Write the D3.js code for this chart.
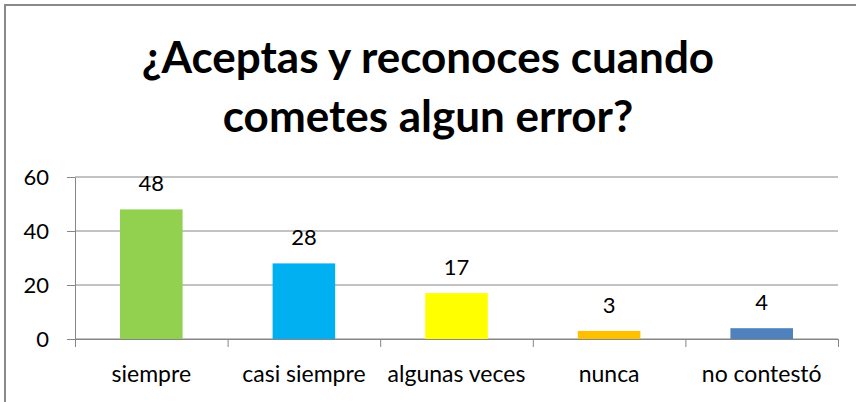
<!DOCTYPE html>
<html lang="es">
<head>
	<meta charset="utf-8">
	<title>aceptas y reconoces</title>
	<script src="https://d3js.org/d3.v7.min.js"></script>
	<style>
		body{ margin:0; background:#fff; }
		text{ font-family: Lato, "Open Sans", sans-serif; fill:#000; }
		.axis path, .axis line{ stroke:#868686; }
	</style>
</head>
<body>
<div id="chart"></div>
<script>
// data
let categories = ["siempre","casi siempre","algunas veces","nunca","no contestó"];
let values = [48, 28, 17, 3, 4];
let colors = ["#92D050","#00B0F0","#FFFF00","#FFC000","#4F81BD"];
let yTicks = [0, 20, 40, 60];
let titleLines = ["¿Aceptas y reconoces cuando","cometes algun error?"];

let W = 856, H = 402;
let pLeft = 75, pRight = 838, pTop = 177, pBottom = 339;

let svg = d3.select("#chart").append("svg")
	.attr("width", W).attr("height", H);

// chart border (goes off the right / bottom of the picture)
svg.append("rect")
	.attr("x", 5).attr("y", 5)
	.attr("width", 900).attr("height", 500)
	.attr("fill", "none").attr("stroke", "#898989").attr("stroke-width", 2);

// title
svg.selectAll(".title").data(titleLines).enter()
	.append("text")
	.attr("class", "title")
	.attr("x", 428)
	.attr("y", (d,i) => 73 + i*59)
	.attr("text-anchor", "middle")
	.style("font-size", "44px")
	.style("font-weight", "bold")
	.text(d => d);

let x = d3.scaleBand().domain(categories).range([pLeft, pRight])
	.paddingInner(0.59).paddingOuter(0.295);
let y = d3.scaleLinear().domain([0, 60]).range([pBottom, pTop]);

// gridlines
svg.selectAll(".grid").data(yTicks).enter()
	.append("line")
	.attr("x1", pLeft).attr("x2", pRight)
	.attr("y1", d => y(d)).attr("y2", d => y(d))
	.attr("stroke", "#868686").attr("stroke-width", 1);

// y axis
let yAxis = svg.append("g").attr("class","axis")
	.attr("transform", "translate(" + pLeft + ",0)")
	.call(d3.axisLeft(y).tickValues(yTicks).tickSize(8).tickPadding(18).tickSizeOuter(0));
yAxis.selectAll("text").style("font-size","22px").style("font-family","Lato, sans-serif");

// bars
svg.selectAll(".bar").data(values).enter()
	.append("rect")
	.attr("x", (d,i) => x(categories[i]))
	.attr("y", d => y(d))
	.attr("width", x.bandwidth())
	.attr("height", d => y(0) - y(d))
	.attr("fill", (d,i) => colors[i]);

// x axis with ticks on category boundaries
let xb = d3.scaleLinear().domain([0, categories.length]).range([pLeft, pRight]);
svg.append("g").attr("class","axis")
	.attr("transform", "translate(0," + pBottom + ")")
	.call(d3.axisBottom(xb).tickValues(d3.range(categories.length + 1)).tickSize(8).tickFormat("").tickSizeOuter(0));

svg.selectAll(".xlabel").data(categories).enter()
	.append("text")
	.attr("x", d => x(d) + x.bandwidth()/2)
	.attr("y", 382)
	.attr("text-anchor", "middle")
	.style("font-size", "23px")
	.text(d => d);

// value labels
svg.selectAll(".vlabel").data(values).enter()
	.append("text")
	.attr("x", (d,i) => x(categories[i]) + x.bandwidth()/2)
	.attr("y", d => y(d) - 18)
	.attr("text-anchor", "middle")
	.style("font-size", "22px")
	.text(d => d);
</script>
</body>
</html>
